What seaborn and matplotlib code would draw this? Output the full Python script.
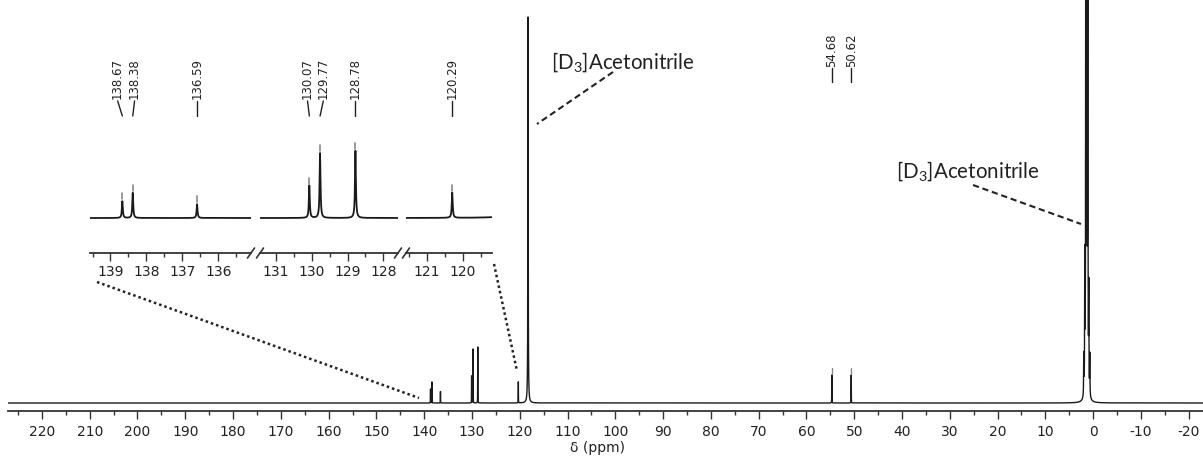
import numpy as np
import matplotlib
matplotlib.use("Agg")
import matplotlib.pyplot as plt
import seaborn as sns
from matplotlib.ticker import MultipleLocator
from matplotlib.transforms import blended_transform_factory

# ---------------- data ----------------
peak_ppm = [138.67, 138.38, 136.59, 130.07, 129.77, 128.78, 120.29, 54.68, 50.62]
peak_height = [14.0, 21.0, 11.5, 27.0, 54.0, 56.0, 21.0, 28.0, 28.0]
solvent_ppm = [118.26]
solvent_height = [386.0]
septet_ppm = [1.95, 1.74, 1.53, 1.32, 1.11, 0.90, 0.69]
septet_height = [40.0, 133.0, 600.0, 900.0, 600.0, 100.0, 40.0]

main_tick_ppm = [220, 210, 200, 190, 180, 170, 160, 150, 140, 130, 120, 110, 100,
                 90, 80, 70, 60, 50, 40, 30, 20, 10, 0, -10, -20]
main_tick_labels = ["220", "210", "200", "190", "180", "170", "160", "150", "140",
                    "130", "120", "110", "100", "90", "80", "70", "60", "50", "40",
                    "30", "20", "10", "0", "-10", "-20"]
main_labelled_ppm = [54.68, 50.62]

inset_ranges = [(139.57, 135.09), (131.45, 127.59), (121.57, 119.19)]
inset_ticks = [[139, 138, 137, 136], [131, 130, 129, 128], [121, 120]]
inset_labelled_ppm = [138.67, 138.38, 136.59, 130.07, 129.77, 128.78, 120.29]
solvent_name = "[D$_3$]Acetonitrile"
xlabel_text = "δ (ppm)"

# ---------------- layout helpers ----------------
sns.set_theme(style="white")
plt.rcParams["font.family"] = ["DejaVu Sans"]
plt.rcParams["mathtext.default"] = "regular"

W, H = 1203, 457
fig = plt.figure(figsize=(W / 100, H / 100), dpi=100)


def fx(px):
    return px / W


def fy(py):
    return 1 - py / H


ppm_all = peak_ppm + solvent_ppm + septet_ppm
h_all = peak_height + solvent_height + septet_height
w_all = [0.015] * len(peak_ppm) + [0.04] * len(solvent_ppm) + [0.035] * len(septet_ppm)

grid = [np.linspace(-23.0, 227.1, 8001)]
for p in ppm_all:
    grid.append(p + np.linspace(-0.6, 0.6, 481))
x = np.unique(np.concatenate(grid))
y = np.zeros_like(x)
for p, h, w in zip(ppm_all, h_all, w_all):
    y += h * w ** 2 / ((x - p) ** 2 + w ** 2)

ink = "#1a1a1a"

# ---------------- main axes ----------------
ax = fig.add_axes([fx(8), fy(411), fx(1195), 411 / H])
sns.lineplot(x=x, y=y, ax=ax, color=ink, linewidth=1.0, estimator=None, sort=True)
ax.set_xlim(227.1, -23.0)
ax.set_ylim(-8, 403)
for s in ["left", "right", "top"]:
    ax.spines[s].set_visible(False)
ax.spines["bottom"].set_color("#333333")
ax.spines["bottom"].set_linewidth(1.3)
ax.set_yticks([])
ax.set_ylabel("")
ax.set_xticks(main_tick_ppm, labels=main_tick_labels)
ax.xaxis.set_minor_locator(MultipleLocator(5))
ax.tick_params(axis="x", which="major", direction="out", length=6, width=1,
               color="#333333", labelsize=10, labelcolor="#222222", pad=4, bottom=True)
ax.tick_params(axis="x", which="minor", direction="out", length=3, width=1,
               color="#333333", bottom=True)
ax.set_xlabel(xlabel_text, fontsize=10, color="#222222", labelpad=1)
ax.xaxis.set_label_coords((598 - 8) / 1195, -0.072)

trans_main = blended_transform_factory(ax.transData, fig.transFigure)
for p, h in zip(peak_ppm, peak_height):
    if p in main_labelled_ppm:
        ax.text(p, fy(67), f"{p:.2f}", rotation=90, ha="center", va="bottom",
                transform=trans_main, fontsize=8.5, color="#222222")
        ax.plot([p, p], [fy(68), fy(82)], transform=trans_main, color="#222222",
                lw=1, clip_on=False)
        ax.plot([p, p], [h + 1.5, h + 7], color="#888888", lw=1)

# ---------------- inset (broken axis) ----------------
seg_px = [(90, 251), (260, 398), (406, 492)]
k = 1.2
inset_y_top, inset_y_bot = 100, 253
inset_axes = []
for (x0, x1), rng, ticks in zip(seg_px, inset_ranges, inset_ticks):
    ia = fig.add_axes([fx(x0), fy(inset_y_bot), fx(x1 - x0), (inset_y_bot - inset_y_top) / H])
    sns.lineplot(x=x, y=y, ax=ia, color=ink, linewidth=1.3, estimator=None, sort=True)
    ia.set_xlim(*rng)
    ia.set_ylim(-35 / k, 118 / k)
    ia.patch.set_alpha(0)
    for s in ["left", "right", "top"]:
        ia.spines[s].set_visible(False)
    ia.spines["bottom"].set_color("#333333")
    ia.spines["bottom"].set_linewidth(1.3)
    ia.set_yticks([])
    ia.set_ylabel("")
    ia.set_xlabel("")
    ia.set_xticks(ticks, labels=[str(t) for t in ticks])
    ia.xaxis.set_minor_locator(MultipleLocator(0.5))
    ia.tick_params(axis="x", which="major", direction="out", length=6, width=1,
                   color="#333333", labelsize=10, labelcolor="#222222", pad=3, bottom=True)
    ia.tick_params(axis="x", which="minor", direction="out", length=3, width=1,
                   color="#333333", bottom=True)
    inset_axes.append(ia)

# break marks
for i, ia in enumerate(inset_axes):
    x0, x1 = seg_px[i]
    wpx = x1 - x0
    hpx = inset_y_bot - inset_y_top
    dx, dy = 3.5 / wpx, 5 / hpx
    ends = []
    if i > 0:
        ends.append(0.0)
    if i < len(inset_axes) - 1:
        ends.append(1.0)
    for e in ends:
        ia.plot([e - dx, e + dx], [-dy, dy], transform=ia.transAxes, color="#333333",
                lw=1.2, clip_on=False)

# peak labels in inset
label_offsets = {138.67: 138.80, 138.38: 138.33, 130.07: 130.12, 129.77: 129.68}
for p in inset_labelled_ppm:
    seg = 0 if p > 134 else (1 if p > 125 else 2)
    ia = inset_axes[seg]
    tr = blended_transform_factory(ia.transData, fig.transFigure)
    lx = label_offsets.get(p, p)
    ia.text(lx, fy(99), f"{p:.2f}", rotation=90, ha="center", va="bottom",
            transform=tr, fontsize=8.5, color="#222222")
    ia.plot([lx, p], [fy(101), fy(116)], transform=tr, color="#222222", lw=1,
            clip_on=False)
    h = peak_height[peak_ppm.index(p)]
    ia.plot([p, p], [h + 2 / k, h + 8 / k], color="#888888", lw=1.2)

# ---------------- zoom guides and solvent labels ----------------
fig.add_artist(plt.Line2D([fx(97), fx(419)], [fy(282), fy(398)], transform=fig.transFigure,
                          color="#222222", lw=1.8, ls=(0, (1, 1.2))))
fig.add_artist(plt.Line2D([fx(494), fx(517)], [fy(264), fy(371)], transform=fig.transFigure,
                          color="#222222", lw=1.8, ls=(0, (1, 1.2))))
fig.add_artist(plt.Line2D([fx(613), fx(537)], [fy(72), fy(124)], transform=fig.transFigure,
                          color="#222222", lw=1.5, ls=(0, (3, 1.8))))
fig.add_artist(plt.Line2D([fx(973), fx(1081)], [fy(185), fy(224)], transform=fig.transFigure,
                          color="#222222", lw=1.5, ls=(0, (3, 1.8))))

fig.text(fx(623), fy(62), solvent_name, ha="center", va="center", fontsize=14.8,
         family=["Lato", "DejaVu Sans"], color="#222222")
fig.text(fx(968), fy(171), solvent_name, ha="center", va="center", fontsize=14.8,
         family=["Lato", "DejaVu Sans"], color="#222222")

fig.savefig("out.png", dpi=100, facecolor="white")
